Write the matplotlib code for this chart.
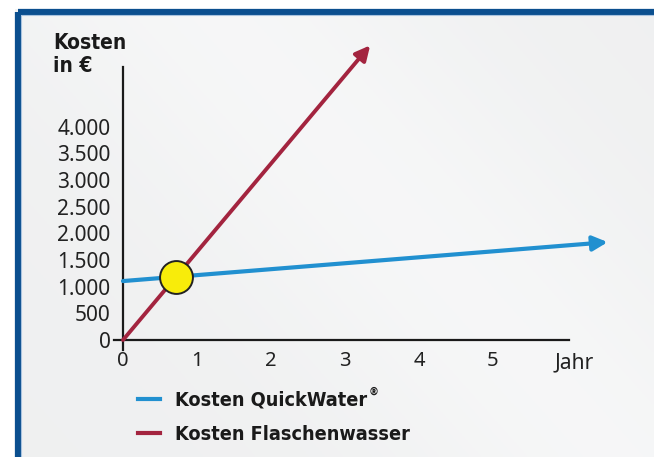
import matplotlib
matplotlib.use('Agg')
import matplotlib.pyplot as plt
import numpy as np
from matplotlib.patches import Rectangle
from matplotlib.lines import Line2D

# Daten (aus der Grafik geschätzt)
jahre_quick = [0, 6.55]
kosten_quick = [1105, 1835]
jahre_flasche = [0, 3.34]
kosten_flasche = [0, 5524]
schnitt_jahr = [0.72]
schnitt_kosten = [1185]

y_ticks = [0, 500, 1000, 1500, 2000, 2500, 3000, 3500, 4000]
y_labels = ['0', '500', '1.000', '1.500', '2.000', '2.500', '3.000', '3.500', '4.000']
x_ticks = [0, 1, 2, 3, 4, 5]
x_labels = ['0', '1', '2', '3', '4', '5']

blau = '#2190d0'
rot = '#a3243f'
rahmen = '#0b4f8f'
schmal = dict(family='DejaVu Sans', fontstretch='condensed', fontweight='bold', color='#1a1a1a')

W, H = 654, 457
fig = plt.figure(figsize=(W / 100, H / 100), dpi=100)
fig.patch.set_facecolor('white')

# Hintergrund mit leichtem Verlauf
bg = fig.add_axes([0, 0, 1, 1])
bg.set_xlim(0, W)
bg.set_ylim(H, 0)
bg.axis('off')
xx, yy = np.meshgrid(np.linspace(0, 1, 200), np.linspace(0, 1, 150))
t = (xx * 0.8 - yy * 0.5)
grad = 0.945 + 0.025 * np.exp(-((t - 0.25) ** 2) / 0.08)
bg.imshow(np.dstack([grad * 0.995, grad * 0.998, grad * 1.0]).clip(0, 1),
          extent=[15, W, H, 9], aspect='auto', zorder=0)
bg.add_patch(Rectangle((17.5, 11.5), W, H, fill=False, edgecolor=rahmen, lw=4.5, zorder=2))
bg.add_patch(Rectangle((21, 15), W, H, fill=False, edgecolor='#a9c3df', lw=0.8, zorder=2))

# Diagramm
ax = fig.add_axes([123 / W, (H - 340) / H, 518 / W, 320 / H])
ax.set_xlim(0, 7)
ax.set_ylim(0, 6000)
ax.patch.set_alpha(0)
for s in ax.spines.values():
    s.set_visible(False)

ax.plot([0, 0], [-190, 5110], color='#1a1a1a', lw=1.6, clip_on=False)
ax.plot([-0.12, 6.03], [0, 0], color='#1a1a1a', lw=1.6, clip_on=False)

ax.set_yticks(y_ticks)
ax.set_yticklabels(y_labels, fontsize=15, family='Noto Sans', color='#222222')
ax.set_xticks(x_ticks)
ax.set_xticklabels(x_labels, fontsize=14.5, family='Noto Sans', color='#222222')
ax.tick_params(axis='y', length=0, pad=9)
ax.tick_params(axis='x', length=0, pad=8)

ax.text(6.1, -420, 'Jahr', fontsize=15, family='Noto Sans', color='#222222',
        ha='center', va='center')

ax.annotate('', xy=(jahre_quick[1], kosten_quick[1]), xytext=(jahre_quick[0], kosten_quick[0]),
            arrowprops=dict(arrowstyle='-|>', lw=3, color=blau, mutation_scale=22,
                            shrinkA=0, shrinkB=0), annotation_clip=False)
ax.annotate('', xy=(jahre_flasche[1], kosten_flasche[1]), xytext=(jahre_flasche[0], kosten_flasche[0]),
            arrowprops=dict(arrowstyle='-|>', lw=2.8, color=rot, mutation_scale=22,
                            shrinkA=0, shrinkB=0), annotation_clip=False)
ax.scatter(schnitt_jahr, schnitt_kosten, s=560, color='#f8ec0a', edgecolor='#222222',
           linewidth=1.4, zorder=5, clip_on=False)

# Achsentitel
fig.text(53 / W, 1 - 33 / H, 'Kosten\nin €', fontsize=15, ha='left', va='top',
         linespacing=1.2, **schmal)

# Legende
fig.add_artist(Line2D([138 / W, 160 / W], [1 - 399 / H, 1 - 399 / H], color=blau, lw=3))
fig.add_artist(Line2D([138 / W, 160 / W], [1 - 433 / H, 1 - 433 / H], color=rot, lw=3))
t1 = fig.text(175 / W, 1 - 400 / H, 'Kosten QuickWater', fontsize=14.2, va='center', **schmal)
fig.canvas.draw()
bb = t1.get_window_extent()
fig.text((bb.x1 + 1) / W, 1 - 392 / H, '®', fontsize=8, va='center', **schmal)
fig.text(175 / W, 1 - 434 / H, 'Kosten Flaschenwasser', fontsize=14.2, va='center', **schmal)

fig.savefig('out.png', dpi=100)
